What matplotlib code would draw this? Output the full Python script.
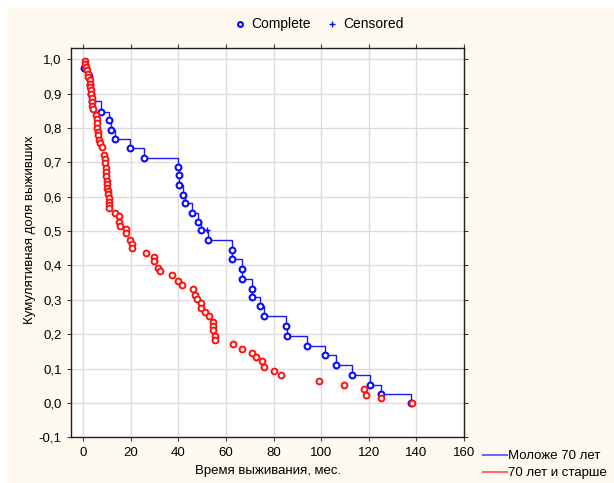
import matplotlib
matplotlib.use("Agg")
import matplotlib.pyplot as plt
from matplotlib.lines import Line2D
from matplotlib.patches import Rectangle
from matplotlib.ticker import FuncFormatter, MultipleLocator

plt.rcParams['font.family'] = ['Liberation Sans', 'DejaVu Sans']

# ---- data ----
blue_label = "Моложе 70 лет"
red_label = "70 лет и старше"

blue_t = [0.5, 2.5, 2.9, 3.2, 3.6, 7.4, 10.8, 11.6, 13.2, 19.8,
          25.7, 39.6, 40.4, 40.4, 42.1, 42.9, 45.5, 48.0, 49.5, 52.3,
          62.6, 62.6, 66.8, 66.8, 71.0, 71.0, 74.2, 75.9, 85.0, 85.8,
          94.2, 101.5, 106.4, 113.0, 120.4, 125.3, 137.8]
blue_s = [0.975, 0.952, 0.926, 0.900, 0.877, 0.845, 0.822, 0.794, 0.767, 0.742,
          0.713, 0.685, 0.662, 0.634, 0.605, 0.582, 0.554, 0.525, 0.503, 0.474,
          0.446, 0.418, 0.390, 0.360, 0.332, 0.309, 0.282, 0.253, 0.225, 0.196,
          0.167, 0.139, 0.110, 0.081, 0.053, 0.025, 0.0]
blue_cens_t = [52.1]
blue_cens_s = [0.503]

red_t = [0.6, 0.8, 1.0, 1.7, 2.0, 2.1, 2.7, 2.7, 2.9, 3.2,
         3.4, 3.5, 3.7, 3.8, 4.1, 5.5, 5.8, 5.9, 5.9, 6.2,
         6.2, 6.6, 7.2, 8.0, 8.8, 9.0, 9.1, 9.4, 9.7, 9.7,
         10.0, 10.0, 10.1, 10.2, 10.2, 10.7, 10.9, 10.9, 10.9,
         13.2, 15.0, 15.0, 15.6, 18.1, 18.1, 19.8, 20.6, 20.6, 26.5,
         29.7, 29.7, 31.4, 32.3, 37.2, 39.6, 41.3, 46.2, 47.0, 47.9,
         49.5, 49.5, 51.2, 52.8, 54.4, 54.4, 54.4, 55.3, 55.3, 62.9,
         66.9, 71.0, 72.7, 75.1, 75.9, 80.0, 83.2, 98.9, 109.6, 117.9,
         118.7, 125.3, 138.3]
red_s = [0.996, 0.986, 0.977, 0.967, 0.957, 0.948, 0.938, 0.928, 0.919, 0.909,
         0.899, 0.887, 0.875, 0.865, 0.854, 0.837, 0.826, 0.813, 0.800, 0.789,
         0.778, 0.765, 0.755, 0.745, 0.720, 0.709, 0.697, 0.684, 0.672, 0.660,
         0.647, 0.636, 0.626, 0.616, 0.607, 0.595, 0.585, 0.576, 0.566,
         0.554, 0.544, 0.525, 0.515, 0.505, 0.493, 0.474, 0.462, 0.450, 0.435,
         0.424, 0.412, 0.394, 0.383, 0.372, 0.356, 0.344, 0.332, 0.315, 0.303,
         0.292, 0.275, 0.264, 0.252, 0.235, 0.224, 0.212, 0.196, 0.184, 0.173,
         0.156, 0.144, 0.133, 0.122, 0.105, 0.094, 0.082, 0.065, 0.053, 0.042,
         0.024, 0.014, 0.0]

x_ticks = [0, 20, 40, 60, 80, 100, 120, 140, 160]
x_title = "Время выживания, мес."
y_title = "Кумулятивная доля выживших"

# ---- figure ----
W, H = 614, 483
fig = plt.figure(figsize=(W / 100, H / 100), dpi=100)
fig.patch.set_facecolor('white')
fig.add_artist(Rectangle((8 / W, 0), 1 - 8 / W, 1 - 8 / H, transform=fig.transFigure,
                         facecolor='#fefaf0', edgecolor='none', zorder=-10))

ax = fig.add_axes([71.4 / W, 1 - 437.4 / H, (464 - 71.4) / W, (437.4 - 47.8) / H])
ax.set_facecolor('white')
ax.set_xlim(-5, 160)
ax.set_ylim(-0.1, 1.033)
ax.set_xticks(x_ticks)
ax.yaxis.set_major_locator(MultipleLocator(0.1))
ax.yaxis.set_major_formatter(FuncFormatter(lambda v, p: f"{v:.1f}".replace('.', ',').replace('-0,0', '0,0')))
ax.grid(True, color='#dcdcdc', lw=1)
ax.set_axisbelow(True)
ax.tick_params(direction='out', length=3, width=0.8, color='#404040', labelsize=9.5,
               top=True, right=True, labeltop=False, labelright=False, pad=4)
for sp in ax.spines.values():
    sp.set_color('#202020')
    sp.set_linewidth(1)

# blue KM step line
st = [0] + blue_t
ss = [1.0] + blue_s
ax.step(st, ss, where='post', color='#1a1aff', lw=1, zorder=3)
ax.plot(blue_t, blue_s, 'o', ms=4.2, mfc='white', mec='#0a0aff', mew=1.5, zorder=4)
ax.plot(blue_cens_t, blue_cens_s, '+', ms=5, color='#0a0aff', mew=1, zorder=4)
ax.plot(red_t, red_s, 'o', ms=4.2, mfc='white', mec='#ff1010', mew=1.4, zorder=5)

ax.set_xlabel(x_title, fontsize=9.5, labelpad=4)
fig.text(30 / W, 1 - 230 / H, y_title, rotation=90, fontsize=9.5, ha='center', va='center')

# top legend
ly = 1 - 24 / H
fig.add_artist(Line2D([240 / W], [ly], transform=fig.transFigure, marker='o', ms=3.5,
                      mfc='white', mec='#0a0aff', mew=1.5, ls='none'))
fig.text(251 / W, ly, "Complete", fontsize=10, va='center', ha='left')
fig.add_artist(Line2D([332 / W], [ly], transform=fig.transFigure, marker='+', ms=5,
                      color='#0a0aff', mew=1, ls='none'))
fig.text(343 / W, ly, "Censored", fontsize=10, va='center', ha='left')

# bottom right legend
for yy, col, lab in [(455, '#6a6aff', blue_label), (472, '#ff6a6a', red_label)]:
    fig.add_artist(Line2D([483 / W, 507 / W], [1 - yy / H, 1 - yy / H], transform=fig.transFigure,
                          color=col, lw=1.5))
    fig.text(508 / W, 1 - (yy + 1) / H, lab, fontsize=9.5, va='center', ha='left')

fig.savefig("out.png", dpi=100, facecolor=fig.get_facecolor())
